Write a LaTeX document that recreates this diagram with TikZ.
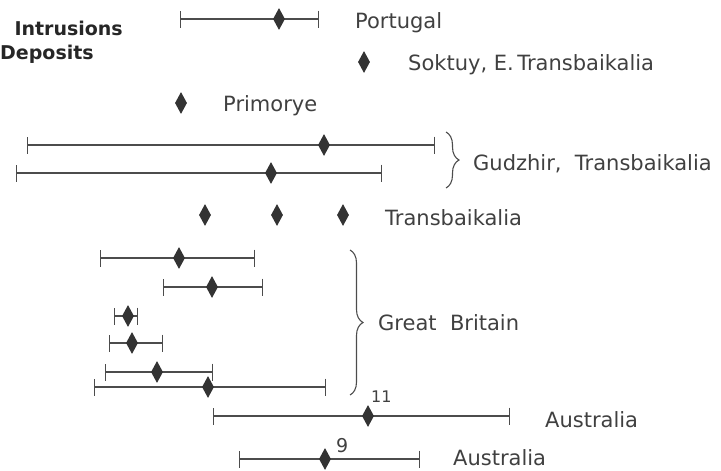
\documentclass[tikz,border=0pt]{standalone}
\usepackage{fontspec}
\setmainfont{DejaVu Sans}
\usetikzlibrary{shapes.geometric,arrows.meta,decorations.pathreplacing}

\begin{document}
\begin{tikzpicture}[x=1pt, y=-1pt,
    dia/.style={diamond, fill=black!80, draw=none, minimum width=12pt, minimum height=22pt, inner sep=0},
    bar/.style={draw=black!70, line width=1.1pt, {Bar[width=17pt]}-{Bar[width=17pt]}},
    lbl/.style={anchor=base west, inner sep=0, text=black!75, font=\fontsize{21}{25}\selectfont},
    ttl/.style={inner sep=0, text=black!85, font=\bfseries\fontsize{19}{23}\selectfont},
    brc/.style={draw=black!70, line width=1.1pt, decorate, decoration={brace, amplitude=13pt}}
  ]
  \useasboundingbox (0,0) rectangle (721,471);
  % error bars: name / y / left / value / right
  \foreach \n/\y/\l/\m/\r in {por/19/180/279/319, gua/145/27/324/435, gub/173/16/271/382,
      gba/258/100/179/255, gbb/287/163/212/263, gbc/316/114/128/138, gbd/343/109/132/163,
      gbe/372/105/157/213, gbf/387/94/208/326, aua/416/213/368/510, aub/459/239/325/420}
  {
    \coordinate (l-\n) at (\l,\y);
    \coordinate (r-\n) at (\r,\y);
    \draw[bar] (l-\n) -- (r-\n);
    \node[dia] (d-\n) at (\m,\y) {};
  }
  % single values
  \node[dia] (d-sok) at (364,62) {};
  \node[dia] (d-pri) at (181,103) {};
  \foreach \n/\x in {tra/205, trb/277, trc/343}
    \node[dia] (d-\n) at (\x,215) {};

  % braces
  \coordinate (b-gud-t) at (446,132);
  \coordinate (b-gud-b) at (446,188);
  \draw[brc] (b-gud-t) -- (b-gud-b);
  \coordinate (b-gb-t) at (350,250);
  \coordinate (b-gb-b) at (350,395);
  \draw[brc] (b-gb-t) -- (b-gb-b);

  % legend
  \node[ttl, anchor=base east] (t-int) at (123,35) {Intrusions};
  \node[ttl, anchor=base west] (t-dep) at (0,59) {Deposits};

  % labels
  \node[lbl] (t-por) at (355,28) {Portugal};
  \node[lbl] (t-sok) at (408,70) {Soktuy, E.\,Transbaikalia};
  \node[lbl] (t-pri) at (223,111) {Primorye};
  \node[lbl] (t-gud) at (473,170) {Gudzhir, \ Transbaikalia};
  \node[lbl] (t-tra) at (385,225) {Transbaikalia};
  \node[lbl] (t-gb) at (378,330) {Great \ Britain};
  \node[lbl] (t-aua) at (545,427) {Australia};
  \node[lbl] (t-aub) at (453,465) {Australia};
  \node[lbl, font=\fontsize{16}{19}\selectfont] (n-aua) at (371,402) {11};
  \node[lbl, font=\fontsize{19}{22}\selectfont] (n-aub) at (336,452) {9};
\end{tikzpicture}
\end{document}
